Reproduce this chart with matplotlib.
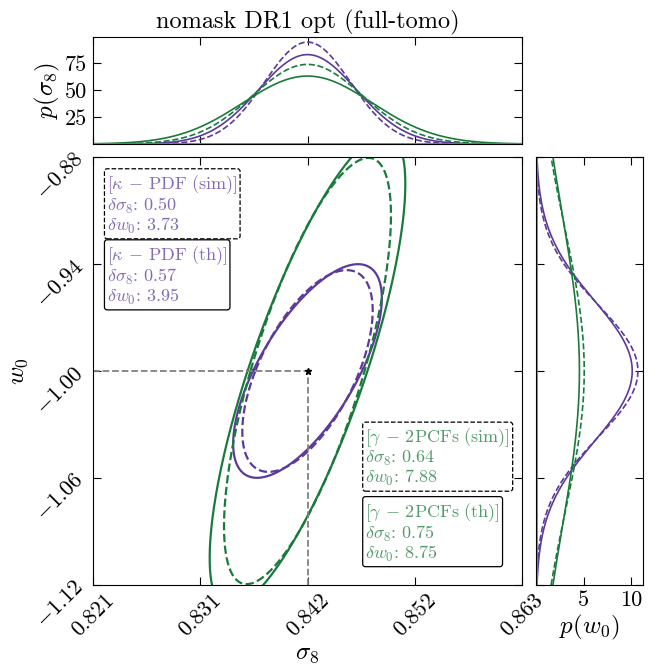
import numpy as np
import matplotlib
matplotlib.use('Agg')
import matplotlib.pyplot as plt

plt.rcParams['font.family'] = 'serif'
plt.rcParams['font.serif'] = ['cmr10']
plt.rcParams['mathtext.fontset'] = 'cm'
plt.rcParams['axes.formatter.use_mathtext'] = True

# fiducial values
sig8_fid = 0.842
w0_fid = -1.0

# forecasts: relative errors in percent, and correlation
labels = [r'$[\kappa\,-\,\mathrm{PDF\ (sim)}]$', r'$[\kappa\,-\,\mathrm{PDF\ (th)}]$',
          r'$[\gamma\,-\,\mathrm{2PCFs\ (sim)}]$', r'$[\gamma\,-\,\mathrm{2PCFs\ (th)}]$']
sig8_err = [0.50, 0.57, 0.64, 0.75]
w0_err = [3.73, 3.95, 7.88, 8.75]
rho = [0.60, 0.68, 0.73, 0.79]
colors = ['#5b3a9b', '#5b3a9b', '#1a7a3c', '#1a7a3c']
styles = ['--', '-', '--', '-']

xticklabels = ['0.821', '0.831', '0.842', '0.852', '0.863']
yticklabels = [r'$-0.88$', r'$-0.94$', r'$-1.00$', r'$-1.06$', r'$-1.12$']

fig = plt.figure(figsize=(6.63, 6.68), dpi=100)
ax = fig.add_axes([93/663, 83/668, 429/663, 428/668])
axt = fig.add_axes([93/663, 524/668, 429/663, 107/668])
axr = fig.add_axes([536/663, 83/668, 107/663, 428/668])

dx = 0.021
dy = 0.12
xs = np.linspace(sig8_fid - dx, sig8_fid + dx, 400)
ys = np.linspace(w0_fid - dy, w0_fid + dy, 400)
t = np.linspace(0, 2*np.pi, 400)
k = np.sqrt(2.30)  # 68% contour

pmax_x = 0
pmax_y = 0
for i in range(4):
    sx = sig8_err[i]/100*sig8_fid
    sy = w0_err[i]/100*abs(w0_fid)
    cov = np.array([[sx**2, rho[i]*sx*sy], [rho[i]*sx*sy, sy**2]])
    vals, vecs = np.linalg.eigh(cov)
    circ = np.vstack([np.cos(t), np.sin(t)]) * k * np.sqrt(vals)[:, None]
    ell = vecs @ circ
    ax.plot(sig8_fid + ell[0], w0_fid + ell[1], color=colors[i], ls=styles[i], lw=1.6)

    px = np.exp(-0.5*((xs - sig8_fid)/sx)**2)/(np.sqrt(2*np.pi)*sx)
    py = np.exp(-0.5*((ys - w0_fid)/sy)**2)/(np.sqrt(2*np.pi)*sy)
    axt.plot(xs, px, color=colors[i], ls=styles[i], lw=1.2)
    axr.plot(py, ys, color=colors[i], ls=styles[i], lw=1.2)
    pmax_x = max(pmax_x, px.max())
    pmax_y = max(pmax_y, py.max())

# fiducial
ax.plot([sig8_fid - dx, sig8_fid], [w0_fid, w0_fid], color='gray', ls='--', lw=1.3)
ax.plot([sig8_fid, sig8_fid], [w0_fid - dy, w0_fid], color='gray', ls='--', lw=1.3)
ax.plot(sig8_fid, w0_fid, marker='*', color='black', ms=5)

ax.set_xlim(sig8_fid - dx, sig8_fid + dx)
ax.set_ylim(w0_fid - dy, w0_fid + dy)
ax.set_xticks(np.linspace(sig8_fid - dx, sig8_fid + dx, 5))
ax.set_xticklabels(xticklabels, rotation=45, fontsize=16)
ax.set_yticks(np.linspace(w0_fid + dy, w0_fid - dy, 5))
ax.set_yticklabels(yticklabels, rotation=45, fontsize=16)
ax.set_xlabel(r'$\sigma_8$', fontsize=18, labelpad=2)
ax.set_ylabel(r'$w_0$', fontsize=18, labelpad=2)

# text boxes
boxpos = [(0.033, 0.962), (0.033, 0.796), (0.635, 0.370), (0.635, 0.196)]
for i in range(4):
    s = labels[i] + '\n' + r'$\delta\sigma_8$: %.2f' % sig8_err[i] + '\n' + r'$\delta w_0$: %.2f' % w0_err[i]
    ax.text(boxpos[i][0], boxpos[i][1], s, transform=ax.transAxes, va='top', ha='left',
            fontsize=13, color=colors[i], alpha=0.75, linespacing=1.0,
            bbox=dict(boxstyle='round,pad=0.15', fc='white', ec='black', ls=styles[i], lw=0.9))

axt.axhline(0, color='gray', lw=2)
axt.set_xlim(sig8_fid - dx, sig8_fid + dx)
axt.set_ylim(0, 1.05*pmax_x)
axt.set_xticks(np.linspace(sig8_fid - dx, sig8_fid + dx, 5))
axt.set_xticklabels([])
axt.set_yticks([25, 50, 75])
axt.set_yticklabels(['25', '50', '75'], fontsize=16)
axt.set_ylabel(r'$p(\sigma_8)$', fontsize=18, labelpad=2)
axt.set_title('nomask DR1 opt (full-tomo)', fontsize=17.5, pad=6)

axr.axvline(0, color='gray', lw=2)
axr.set_ylim(w0_fid - dy, w0_fid + dy)
axr.set_xlim(0, 1.05*pmax_y)
axr.set_yticks(np.linspace(w0_fid + dy, w0_fid - dy, 5))
axr.set_yticklabels([])
axr.set_xticks([5, 10])
axr.set_xticklabels(['5', '10'], fontsize=16)
axr.set_xlabel(r'$p(w_0)$', fontsize=18, labelpad=2)

for a in [ax, axt, axr]:
    a.tick_params(direction='in', top=True, right=True, length=6, width=0.8, pad=4)

fig.savefig('out.png', dpi=100)
